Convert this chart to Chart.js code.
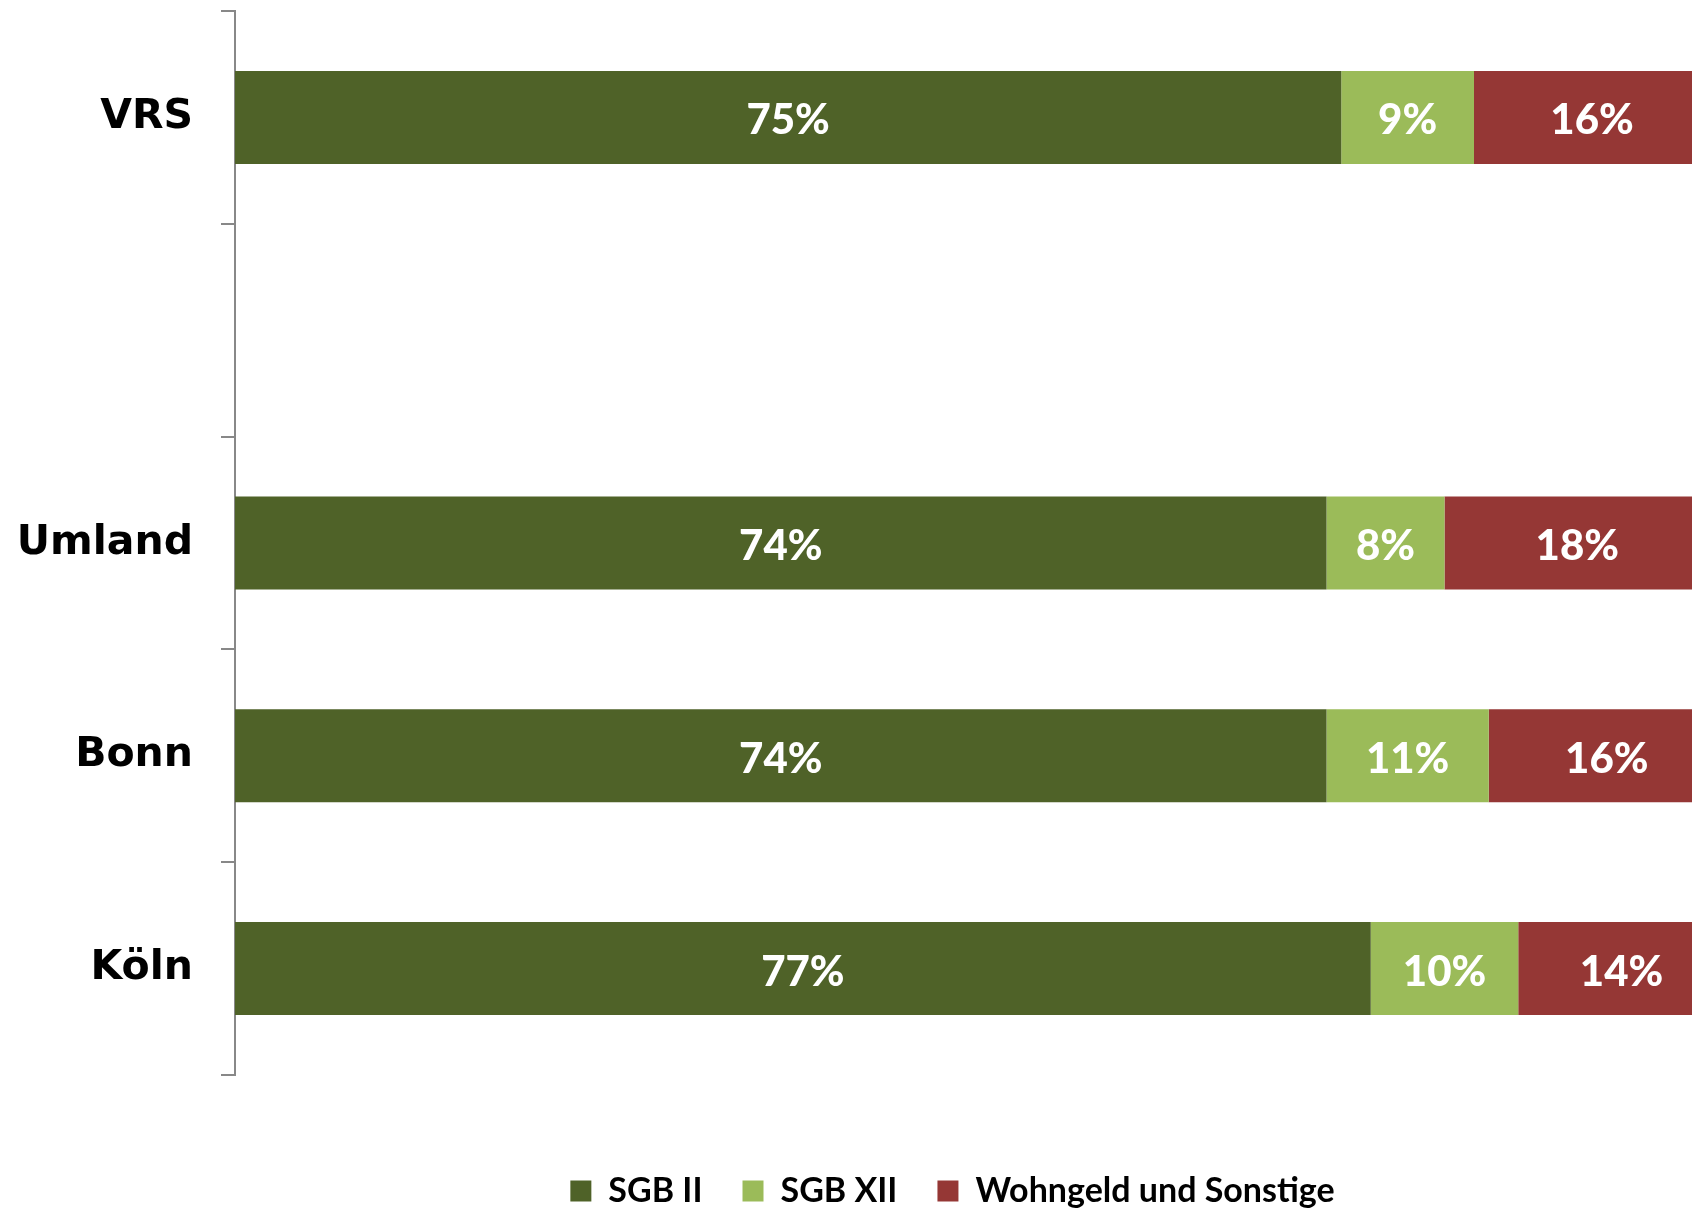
<!DOCTYPE html>
<html>
<head>
<meta charset="utf-8">
<script src="https://cdn.jsdelivr.net/npm/chart.js@4/dist/chart.umd.min.js"></script>
<style>
  html, body { margin: 0; padding: 0; background: #ffffff; overflow: hidden; }
  #wrap { position: absolute; left: 0; top: 0; width: 1710px; height: 1218px; }
</style>
</head>
<body>
<div id="wrap"><canvas id="chart"></canvas></div>
<script>
// Categories (the blank one separates the VRS total from its parts)
const categories = ['VRS', '', 'Umland', 'Bonn', 'Köln'];
const seriesNames = ['SGB II', 'SGB XII', 'Wohngeld und Sonstige'];

// Shares in percent
const sgbII    = [75, null, 74, 74, 77];
const sgbXII   = [9,  null, 8,  11, 10];
const wohngeld = [16, null, 18, 16, 14];

const seriesColors = ['#4F6228', '#9BBB59', '#953735'];

// White percentage labels centred in each bar segment
const segmentLabels = {
  id: 'segmentLabels',
  afterDatasetsDraw(chart) {
    const ctx = chart.ctx;
    ctx.save();
    ctx.font = '900 42px Lato';
    ctx.fillStyle = '#ffffff';
    ctx.textAlign = 'center';
    ctx.textBaseline = 'alphabetic';
    chart.data.datasets.forEach((ds, i) => {
      chart.getDatasetMeta(i).data.forEach((bar, j) => {
        const v = ds.data[j];
        if (v == null) return;
        const p = bar.getProps(['x', 'y', 'base'], true);
        ctx.fillText(v + '%', (p.x + p.base) / 2, p.y + 17);
      });
    });
    ctx.restore();
  }
};

// Moves the legend block a little to the left of the plot-area centre
const legendShift = {
  id: 'legendShift',
  afterLayout(chart) {
    const lg = chart.legend;
    if (!lg) return;
    lg.left -= 20;
    lg.right -= 20;
  }
};

new Chart(document.getElementById('chart'), {
  type: 'bar',
  data: {
    labels: categories,
    datasets: [
      { label: seriesNames[0], data: sgbII,    backgroundColor: seriesColors[0] },
      { label: seriesNames[1], data: sgbXII,   backgroundColor: seriesColors[1] },
      { label: seriesNames[2], data: wohngeld, backgroundColor: seriesColors[2] }
    ]
  },
  options: {
    indexAxis: 'y',
    responsive: true,
    maintainAspectRatio: false,
    animation: false,
    events: [],
    layout: { padding: { top: 11, left: 0, right: 0, bottom: 0 } },
    datasets: {
      bar: { barPercentage: 0.437, categoryPercentage: 1.0, borderWidth: 0 }
    },
    scales: {
      x: {
        stacked: true,
        min: 0,
        max: 100,
        display: true,
        grid: { display: false },
        border: { display: false },
        ticks: { display: false },
        afterFit(scale) {
          scale.height = 59;
          scale.paddingLeft = 0;
          scale.paddingRight = 0;
        }
      },
      y: {
        stacked: true,
        grid: {
          display: true,
          drawOnChartArea: false,
          drawTicks: true,
          tickLength: 14,
          color: '#888888',
          lineWidth: 2,
          offset: true
        },
        border: { display: true, color: '#888888', width: 2 },
        ticks: {
          color: '#000000',
          padding: 28,
          font: { family: 'DejaVu Sans', weight: 'bold', size: 41 }
        },
        afterFit(scale) {
          scale.width = 235;
          scale.paddingTop = 0;
          scale.paddingBottom = 0;
        }
      }
    },
    plugins: {
      tooltip: { enabled: false },
      legend: {
        display: true,
        position: 'bottom',
        fullSize: false,
        labels: {
          color: '#000000',
          boxWidth: 21,
          boxHeight: 21,
          padding: 40,
          font: { family: 'Lato', weight: 'bold', size: 34 }
        }
      }
    }
  },
  plugins: [segmentLabels, legendShift]
});
</script>
</body>
</html>
